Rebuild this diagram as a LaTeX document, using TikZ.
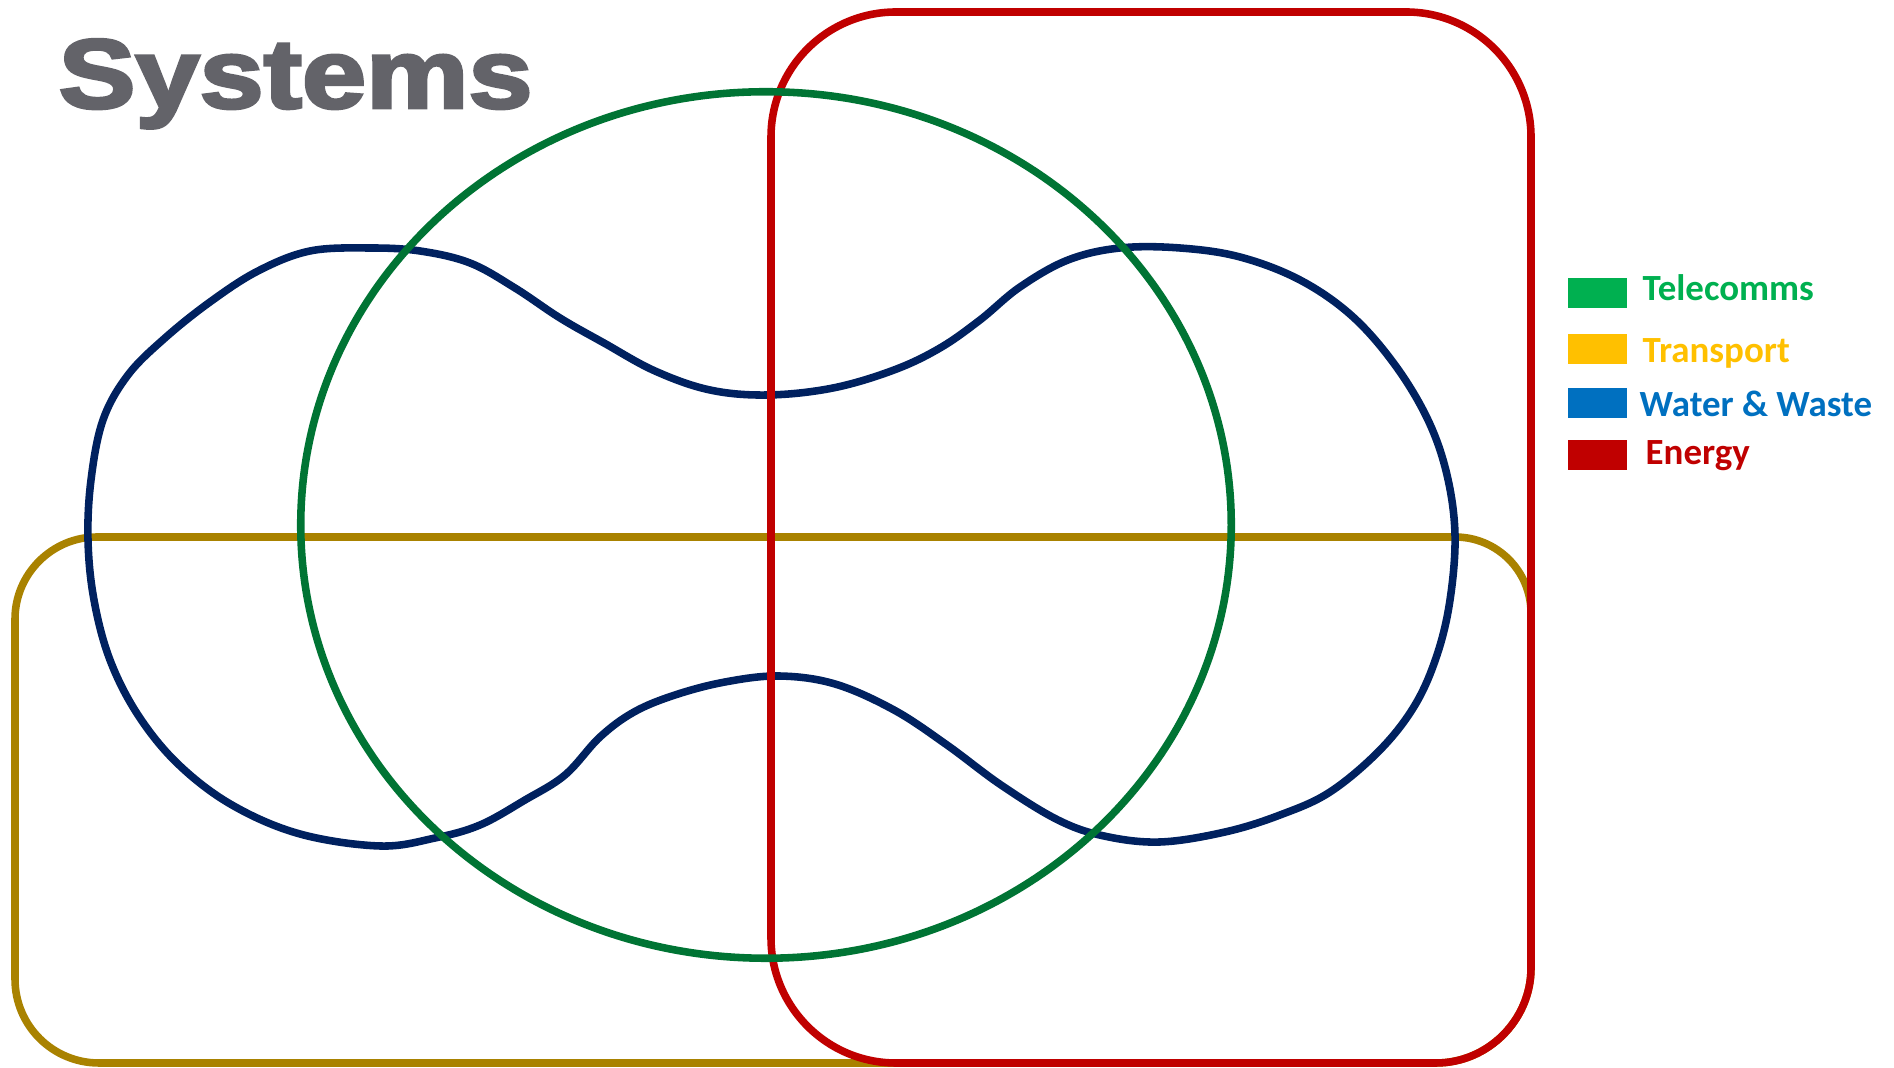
\documentclass[tikz,border=0pt]{standalone}
\usepackage{fontspec}
\setmainfont{Carlito}
\newfontfamily\titlefont{Liberation Sans}[BoldFeatures={FakeBold=3}]
\definecolor{tgreen}{HTML}{007434}
\definecolor{tred}{HTML}{C00000}
\definecolor{tgold}{HTML}{A98200}
\definecolor{tblue}{HTML}{00215F}
\definecolor{lgreen}{HTML}{00B050}
\definecolor{lyellow}{HTML}{FFC000}
\definecolor{lblue}{HTML}{0070C0}
\definecolor{titlegrey}{HTML}{636369}
\begin{document}
\begin{tikzpicture}[x=0.01cm,y=-0.01cm,
  ring/.style={line width=2.15pt, line join=round},
  legbox/.style={minimum width=0.59cm, minimum height=0.30cm, inner sep=0pt, draw=none},
  legtext/.style={anchor=base west, inner sep=0pt, font=\fontsize{10.5}{12}\selectfont\bfseries},
]
\useasboundingbox (0,0) rectangle (1894,1068);

% Transport (gold)
\draw[ring, tgold] (97,537) -- (1455,537) .. controls (1497,537) and (1531,571) .. (1531,613)
  -- (1531,968) .. controls (1531,1020) and (1488,1063) .. (1436,1063)
  -- (99,1063) .. controls (53,1063) and (15,1026) .. (15,979)
  -- (15,619) .. controls (15,574) and (52,537) .. cycle;

% Water & Waste (blue blob)
\draw[ring, tblue] plot[smooth cycle, tension=0.6] coordinates {
  (310,251) (370,248) (420,251) (470,263) (515,288) (560,318) (604,343) (655,371)
  (710,390) (768,395) (833,388) (894,370) (940,348) (980,320) (1020,287) (1068,260)
  (1120,248) (1180,248) (1240,257) (1300,280) (1352,316) (1395,365) (1428,420)
  (1447,475) (1455,535) (1450,600) (1437,655) (1415,705) (1380,750) (1330,792)
  (1280,815) (1225,832) (1160,842) (1104,836) (1058,820) (1001,785) (947,745)
  (894,710) (835,684) (779,676) (725,682) (675,695) (634,712) (600,737) (565,775)
  (525,800) (480,825) (435,838) (380,846) (300,834) (232,805) (178,764) (138,715)
  (110,660) (94,600) (88,540) (91,480) (103,420) (128,375) (165,338) (210,302)
  (258,271)};

% Energy (red)
\draw[ring, tred] (896,12) -- (1406,12) .. controls (1475,12) and (1531,68) .. (1531,137)
  -- (1531,968) .. controls (1531,1020) and (1488,1063) .. (1436,1063)
  -- (896,1063) .. controls (827,1063) and (771,1007) .. (771,938)
  -- (771,137) .. controls (771,68) and (827,12) .. cycle;

% Telecomms (green)
\draw[ring, tgreen] (766,525) ellipse [x radius=4.65cm, y radius=4.33cm];

% Title
\node[font=\titlefont\bfseries\fontsize{28}{30}\selectfont, text=titlegrey, anchor=base west, inner sep=0pt] (title) at (58,108) {\scalebox{1.17}[1]{Systems}};

% Legend
\node[legbox, fill=lgreen] (bt) at (1597,293) {};
\node[legtext, text=lgreen] (lt) at (1642,301) {Telecomms};
\node[legbox, fill=lyellow] (btr) at (1597,349) {};
\node[legtext, text=lyellow] (ltr) at (1642,363) {Transport};
\node[legbox, fill=lblue] (bw) at (1597,403) {};
\node[legtext, text=lblue] (lw) at (1639,417) {Water \& Waste};
\node[legbox, fill=tred] (be) at (1597,455) {};
\node[legtext, text=tred] (le) at (1645,465) {Energy};
\end{tikzpicture}
\end{document}
